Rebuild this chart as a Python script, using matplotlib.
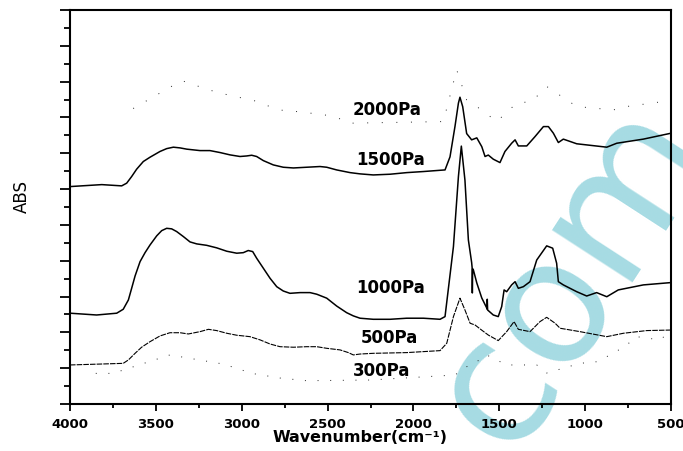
import matplotlib
matplotlib.use("Agg")
import matplotlib.pyplot as plt
from matplotlib.ticker import MultipleLocator, NullFormatter

plt.rcParams['font.family'] = ['DejaVu Sans']

# spectra (wavenumber in cm-1, absorbance in tick units)
wn_2000 = [3632, 3350, 3204, 3126, 2911, 2835, 2738, 2672, 2486, 2387, 2369,
           1826, 1748, 1690, 1603, 1515, 1399, 1311, 1224, 1049, 836, 758, 544]
abs_2000 = [16.5, 18.06, 17.58, 17.36, 16.9, 16.6, 16.33, 16.33, 16.1, 15.8, 15.68,
            15.77, 18.66, 16.98, 16.42, 15.77, 16.8, 16.89, 17.73, 16.61, 16.42, 16.61, 16.89]

wn_1500 = [4000, 3815, 3699, 3670, 3641, 3612, 3573, 3534, 3476, 3437, 3398, 3359,
           3320, 3243, 3185, 3126, 3068, 3010, 2971, 2942, 2913, 2874, 2816, 2758,
           2699, 2622, 2544, 2505, 2447, 2369, 2311, 2234, 2136, 2039, 1942, 1845,
           1816, 1787, 1758, 1738, 1729, 1713, 1690, 1661, 1631, 1602, 1583, 1564,
           1535, 1496, 1467, 1428, 1408, 1389, 1340, 1292, 1243, 1214, 1185, 1156,
           1127, 1049, 874, 816, 661, 500]
abs_1500 = [12.14, 12.25, 12.18, 12.33, 12.7, 13.11, 13.54, 13.78, 14.1, 14.26, 14.34, 14.3,
            14.23, 14.15, 14.15, 14.04, 13.91, 13.82, 13.85, 13.89, 13.82, 13.59, 13.35, 13.22,
            13.18, 13.22, 13.26, 13.22, 13.07, 12.92, 12.85, 12.79, 12.83, 12.92, 12.98, 13.05,
            13.07, 13.8, 15.5, 16.8, 17.13, 16.6, 15.1, 14.75, 14.86, 14.37, 13.82, 13.9,
            13.67, 13.48, 14.1, 14.56, 14.75, 14.41, 14.41, 14.93, 15.49, 15.49, 15.12, 14.6,
            14.79, 14.53, 14.34, 14.56, 14.79, 15.12]

wn_1000 = [4000, 3845, 3728, 3690, 3660, 3641, 3621, 3592, 3563, 3534, 3495, 3466,
           3437, 3408, 3379, 3340, 3301, 3262, 3204, 3146, 3087, 3029, 2991, 2962,
           2936, 2913, 2874, 2835, 2796, 2758, 2719, 2660, 2602, 2563, 2505, 2447,
           2389, 2350, 2311, 2234, 2136, 2039, 1942, 1845, 1816, 1767, 1738, 1721,
           1700, 1680, 1661, 1658, 1657, 1655, 1651, 1631, 1602, 1573, 1571, 1570,
           1568, 1535, 1506, 1486, 1472, 1457, 1428, 1408, 1389, 1360, 1321, 1282,
           1224, 1189, 1166, 1156, 1127, 1049, 991, 933, 874, 807, 661, 500]
abs_1000 = [5.07, 4.97, 5.07, 5.29, 5.81, 6.46, 7.15, 7.95, 8.45, 8.88, 9.39, 9.68,
            9.81, 9.78, 9.63, 9.35, 9.05, 8.94, 8.86, 8.72, 8.53, 8.42, 8.45, 8.57,
            8.51, 8.14, 7.58, 7.02, 6.55, 6.31, 6.18, 6.22, 6.22, 6.13, 5.91, 5.47,
            5.1, 4.92, 4.79, 4.73, 4.73, 4.79, 4.79, 4.73, 4.88, 8.79, 12.7, 14.4,
            12.5, 9.16, 7.9, 7.6, 6.2, 7.55, 7.49, 6.76, 5.92, 5.36, 5.3, 5.85,
            5.25, 4.97, 4.88, 5.44, 6.37, 6.27, 6.65, 6.83, 6.46, 6.55, 6.83, 8.04,
            8.83, 8.7, 7.86, 6.83, 6.65, 6.27, 6.03, 6.22, 5.99, 6.37, 6.65, 6.78]

wn_500 = [4000, 3825, 3690, 3660, 3621, 3583, 3534, 3476, 3418, 3359, 3311, 3243,
          3194, 3146, 3087, 3029, 2952, 2893, 2835, 2777, 2699, 2622, 2563, 2505,
          2427, 2379, 2350, 2311, 2234, 2039, 1845, 1806, 1767, 1729, 1700, 1670,
          1641, 1603, 1564, 1506, 1457, 1414, 1389, 1321, 1263, 1224, 1175, 1146,
          1030, 874, 777, 641, 500]
abs_500 = [2.18, 2.23, 2.27, 2.46, 2.83, 3.17, 3.48, 3.8, 3.98, 3.98, 3.91, 4.04,
           4.17, 4.1, 3.95, 3.84, 3.76, 3.58, 3.35, 3.2, 3.17, 3.2, 3.2, 3.11,
           3.02, 2.87, 2.74, 2.79, 2.83, 2.87, 2.98, 3.39, 4.88, 5.91, 5.25, 4.51,
           4.41, 4.13, 3.85, 3.54, 4.04, 4.6, 4.17, 4.04, 4.6, 4.84, 4.51, 4.23,
           4.04, 3.76, 3.95, 4.1, 4.13]

wn_300 = [3850, 3750, 3418, 3107, 3000, 2942, 2777, 2622, 2250, 1758, 1690, 1632,
          1574, 1457, 1282, 1224, 1030, 933, 836, 758, 700, 564, 505]
abs_300 = [1.71, 1.71, 2.74, 2.23, 1.9, 1.71, 1.45, 1.3, 1.34, 1.62, 2.08, 2.36,
           2.74, 2.18, 2.18, 1.73, 2.27, 2.36, 2.83, 3.3, 3.76, 3.58, 4.04]

labels = ['2000Pa', '1500Pa', '1000Pa', '500Pa', '300Pa']
label_wn = [2154, 2136, 2136, 2142, 2183]
label_abs = [16.42, 13.63, 6.45, 3.66, 1.84]

fig = plt.figure(figsize=(6.83, 4.51), dpi=100)
ax = fig.add_axes([70/683, 47/451, 601/683, 394/451])
ax.patch.set_alpha(0)

# watermark behind everything
fig.text(571/683, 1 - 274/451, 'com', fontsize=125,
         color='#a6dbe3', rotation=57, rotation_mode='anchor',
         ha='center', va='center', zorder=-1)

ax.plot(wn_2000, abs_2000, color='0.15', lw=0.7, linestyle=(0, (1, 14)))
ax.plot(wn_1500, abs_1500, color='black', lw=1.1)
ax.plot(wn_1000, abs_1000, color='black', lw=1.1)
ax.plot(wn_500, abs_500, color='black', lw=0.8, linestyle=(0, (5, 1)))
ax.plot(wn_300, abs_300, color='0.15', lw=0.7, linestyle=(0, (1, 12)))

for lab, x, y in zip(labels, label_wn, label_abs):
    ax.text(x, y, lab, fontsize=12, fontweight='bold', ha='center', va='center')

ax.set_xlim(4000, 500)
ax.set_ylim(0, 22)

ax.xaxis.set_major_locator(MultipleLocator(500))
ax.xaxis.set_minor_locator(MultipleLocator(250))
ax.yaxis.set_major_locator(MultipleLocator(2))
ax.yaxis.set_minor_locator(MultipleLocator(1))
ax.yaxis.set_major_formatter(NullFormatter())

ax.tick_params(axis='x', which='major', direction='out', length=5, width=1.3, pad=5,
               labelsize=9.5, top=False)
ax.tick_params(axis='x', which='minor', direction='out', length=3, width=1.3, top=False)
ax.tick_params(axis='y', which='major', direction='out', length=7, width=1.3, right=False)
ax.tick_params(axis='y', which='minor', direction='out', length=4, width=1.3, right=False)
for t in ax.get_xticklabels():
    t.set_fontweight('bold')

for s in ax.spines.values():
    s.set_linewidth(1.5)

fig.text(360/683, 1 - 437/451, 'Wavenumber(cm⁻¹)', fontsize=11.5, fontweight='bold',
         ha='center', va='center')
fig.text(21.5/683, 1 - 196.5/451, 'ABS', fontsize=12, rotation=90,
         ha='center', va='center')

fig.savefig('out.png', dpi=100)
